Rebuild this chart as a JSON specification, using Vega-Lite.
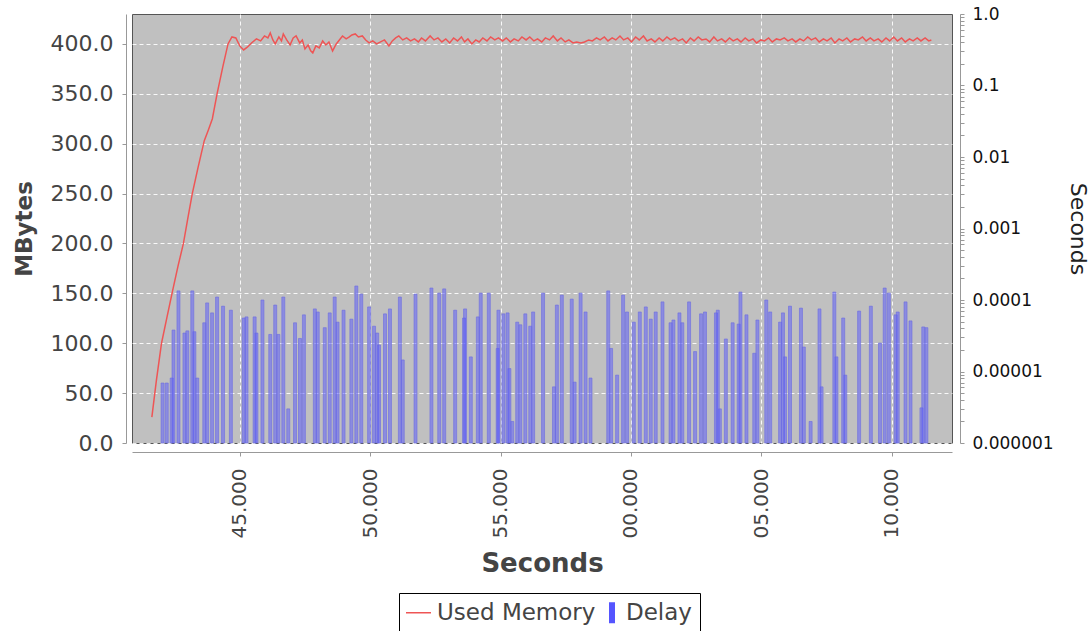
{
  "$schema": "https://vega.github.io/schema/vega-lite/v6.json",
  "width": 820,
  "height": 429,
  "autosize": {"type": "none"},
  "padding": {"left": 132, "top": 14, "right": 140, "bottom": 188},
  "background": "white",
  "config": {
    "font": "DejaVu Sans",
    "view": {"fill": "#c0c0c0", "stroke": "#555555", "strokeWidth": 1},
    "axis": {"domainColor": "#999999", "tickColor": "#999999", "gridColor": "#ffffff", "gridDash": [4, 3], "gridOpacity": 0.9, "labelFont": "DejaVu Sans", "titleFont": "DejaVu Sans"}
  },
  "datasets": {
    "delay": [
      {"t": 42.04, "delay": 6.9e-6, "series": "Delay"},
      {"t": 42.20, "delay": 6.9e-6, "series": "Delay"},
      {"t": 42.39, "delay": 8.1e-6, "series": "Delay"},
      {"t": 42.46, "delay": 3.8e-5, "series": "Delay"},
      {"t": 42.65, "delay": 1.34e-4, "series": "Delay"},
      {"t": 42.88, "delay": 3.45e-5, "series": "Delay"},
      {"t": 42.99, "delay": 3.7e-5, "series": "Delay"},
      {"t": 43.18, "delay": 1.34e-4, "series": "Delay"},
      {"t": 43.26, "delay": 3.6e-5, "series": "Delay"},
      {"t": 43.37, "delay": 8.1e-6, "series": "Delay"},
      {"t": 43.64, "delay": 4.8e-5, "series": "Delay"},
      {"t": 43.75, "delay": 9.1e-5, "series": "Delay"},
      {"t": 43.94, "delay": 6.6e-5, "series": "Delay"},
      {"t": 44.13, "delay": 1.1e-4, "series": "Delay"},
      {"t": 44.36, "delay": 8.2e-5, "series": "Delay"},
      {"t": 44.66, "delay": 7.2e-5, "series": "Delay"},
      {"t": 45.15, "delay": 5.6e-5, "series": "Delay"},
      {"t": 45.26, "delay": 5.8e-5, "series": "Delay"},
      {"t": 45.57, "delay": 5.8e-5, "series": "Delay"},
      {"t": 45.64, "delay": 3.45e-5, "series": "Delay"},
      {"t": 45.87, "delay": 1.0e-4, "series": "Delay"},
      {"t": 46.17, "delay": 3.3e-5, "series": "Delay"},
      {"t": 46.36, "delay": 8.5e-5, "series": "Delay"},
      {"t": 46.48, "delay": 3.3e-5, "series": "Delay"},
      {"t": 46.67, "delay": 1.1e-4, "series": "Delay"},
      {"t": 46.86, "delay": 3.0e-6, "series": "Delay"},
      {"t": 47.12, "delay": 4.8e-5, "series": "Delay"},
      {"t": 47.31, "delay": 2.9e-5, "series": "Delay"},
      {"t": 47.46, "delay": 6.2e-5, "series": "Delay"},
      {"t": 47.88, "delay": 7.5e-5, "series": "Delay"},
      {"t": 47.99, "delay": 6.8e-5, "series": "Delay"},
      {"t": 48.26, "delay": 4.1e-5, "series": "Delay"},
      {"t": 48.45, "delay": 6.6e-5, "series": "Delay"},
      {"t": 48.64, "delay": 1.1e-4, "series": "Delay"},
      {"t": 48.75, "delay": 4.9e-5, "series": "Delay"},
      {"t": 48.98, "delay": 7.2e-5, "series": "Delay"},
      {"t": 49.28, "delay": 5.4e-5, "series": "Delay"},
      {"t": 49.47, "delay": 1.57e-4, "series": "Delay"},
      {"t": 49.66, "delay": 1.21e-4, "series": "Delay"},
      {"t": 49.96, "delay": 8.0e-5, "series": "Delay"},
      {"t": 50.15, "delay": 4.3e-5, "series": "Delay"},
      {"t": 50.27, "delay": 3.45e-5, "series": "Delay"},
      {"t": 50.34, "delay": 2.35e-5, "series": "Delay"},
      {"t": 50.57, "delay": 6.4e-5, "series": "Delay"},
      {"t": 50.76, "delay": 7.5e-5, "series": "Delay"},
      {"t": 51.14, "delay": 1.1e-4, "series": "Delay"},
      {"t": 51.25, "delay": 1.45e-5, "series": "Delay"},
      {"t": 51.74, "delay": 1.21e-4, "series": "Delay"},
      {"t": 52.35, "delay": 1.47e-4, "series": "Delay"},
      {"t": 52.65, "delay": 1.25e-4, "series": "Delay"},
      {"t": 52.84, "delay": 1.43e-4, "series": "Delay"},
      {"t": 53.26, "delay": 7.2e-5, "series": "Delay"},
      {"t": 53.60, "delay": 5.6e-5, "series": "Delay"},
      {"t": 53.64, "delay": 7.5e-5, "series": "Delay"},
      {"t": 53.86, "delay": 1.6e-5, "series": "Delay"},
      {"t": 54.13, "delay": 5.8e-5, "series": "Delay"},
      {"t": 54.24, "delay": 1.25e-4, "series": "Delay"},
      {"t": 54.55, "delay": 1.25e-4, "series": "Delay"},
      {"t": 54.89, "delay": 2.1e-5, "series": "Delay"},
      {"t": 54.92, "delay": 7.2e-5, "series": "Delay"},
      {"t": 55.11, "delay": 6.4e-5, "series": "Delay"},
      {"t": 55.27, "delay": 6.6e-5, "series": "Delay"},
      {"t": 55.34, "delay": 1.1e-5, "series": "Delay"},
      {"t": 55.45, "delay": 2.0e-6, "series": "Delay"},
      {"t": 55.64, "delay": 4.9e-5, "series": "Delay"},
      {"t": 55.76, "delay": 4.5e-5, "series": "Delay"},
      {"t": 55.95, "delay": 6.4e-5, "series": "Delay"},
      {"t": 56.14, "delay": 4.3e-5, "series": "Delay"},
      {"t": 56.25, "delay": 6.8e-5, "series": "Delay"},
      {"t": 56.63, "delay": 1.25e-4, "series": "Delay"},
      {"t": 57.05, "delay": 6.1e-6, "series": "Delay"},
      {"t": 57.16, "delay": 8.5e-5, "series": "Delay"},
      {"t": 57.35, "delay": 1.17e-4, "series": "Delay"},
      {"t": 57.73, "delay": 1.03e-4, "series": "Delay"},
      {"t": 57.84, "delay": 7.1e-6, "series": "Delay"},
      {"t": 58.07, "delay": 1.25e-4, "series": "Delay"},
      {"t": 58.26, "delay": 6.8e-5, "series": "Delay"},
      {"t": 58.45, "delay": 8.1e-6, "series": "Delay"},
      {"t": 59.13, "delay": 1.34e-4, "series": "Delay"},
      {"t": 59.24, "delay": 2.1e-5, "series": "Delay"},
      {"t": 59.47, "delay": 8.9e-6, "series": "Delay"},
      {"t": 59.70, "delay": 1.17e-4, "series": "Delay"},
      {"t": 59.85, "delay": 6.8e-5, "series": "Delay"},
      {"t": 60.11, "delay": 4.9e-5, "series": "Delay"},
      {"t": 60.34, "delay": 6.8e-5, "series": "Delay"},
      {"t": 60.57, "delay": 8.0e-5, "series": "Delay"},
      {"t": 60.76, "delay": 5.4e-5, "series": "Delay"},
      {"t": 60.95, "delay": 6.8e-5, "series": "Delay"},
      {"t": 61.21, "delay": 9.4e-5, "series": "Delay"},
      {"t": 61.52, "delay": 4.8e-5, "series": "Delay"},
      {"t": 61.63, "delay": 5.25e-5, "series": "Delay"},
      {"t": 61.86, "delay": 6.6e-5, "series": "Delay"},
      {"t": 61.97, "delay": 4.8e-5, "series": "Delay"},
      {"t": 62.23, "delay": 9.4e-5, "series": "Delay"},
      {"t": 62.46, "delay": 1.9e-5, "series": "Delay"},
      {"t": 62.69, "delay": 6.4e-5, "series": "Delay"},
      {"t": 62.84, "delay": 6.8e-5, "series": "Delay"},
      {"t": 63.26, "delay": 6.6e-5, "series": "Delay"},
      {"t": 63.33, "delay": 7.2e-5, "series": "Delay"},
      {"t": 63.41, "delay": 3.0e-6, "series": "Delay"},
      {"t": 63.64, "delay": 2.85e-5, "series": "Delay"},
      {"t": 63.90, "delay": 4.8e-5, "series": "Delay"},
      {"t": 64.13, "delay": 4.6e-5, "series": "Delay"},
      {"t": 64.20, "delay": 1.29e-4, "series": "Delay"},
      {"t": 64.43, "delay": 6.2e-5, "series": "Delay"},
      {"t": 64.73, "delay": 1.8e-5, "series": "Delay"},
      {"t": 64.85, "delay": 5.25e-5, "series": "Delay"},
      {"t": 65.19, "delay": 1.0e-4, "series": "Delay"},
      {"t": 65.34, "delay": 6.8e-5, "series": "Delay"},
      {"t": 65.72, "delay": 4.9e-5, "series": "Delay"},
      {"t": 65.83, "delay": 6.6e-5, "series": "Delay"},
      {"t": 65.91, "delay": 1.6e-5, "series": "Delay"},
      {"t": 66.10, "delay": 8.2e-5, "series": "Delay"},
      {"t": 66.52, "delay": 7.7e-5, "series": "Delay"},
      {"t": 66.63, "delay": 2.2e-5, "series": "Delay"},
      {"t": 66.89, "delay": 2.0e-6, "series": "Delay"},
      {"t": 67.23, "delay": 7.5e-5, "series": "Delay"},
      {"t": 67.31, "delay": 6.1e-6, "series": "Delay"},
      {"t": 67.80, "delay": 1.29e-4, "series": "Delay"},
      {"t": 67.88, "delay": 1.6e-5, "series": "Delay"},
      {"t": 68.14, "delay": 5.6e-5, "series": "Delay"},
      {"t": 68.22, "delay": 8.9e-6, "series": "Delay"},
      {"t": 68.75, "delay": 7.0e-5, "series": "Delay"},
      {"t": 69.20, "delay": 8.2e-5, "series": "Delay"},
      {"t": 69.55, "delay": 2.5e-5, "series": "Delay"},
      {"t": 69.73, "delay": 1.47e-4, "series": "Delay"},
      {"t": 69.89, "delay": 1.25e-4, "series": "Delay"},
      {"t": 70.15, "delay": 6.2e-5, "series": "Delay"},
      {"t": 70.23, "delay": 6.8e-5, "series": "Delay"},
      {"t": 70.53, "delay": 9.4e-5, "series": "Delay"},
      {"t": 70.72, "delay": 5.1e-5, "series": "Delay"},
      {"t": 71.14, "delay": 3.1e-6, "series": "Delay"},
      {"t": 71.21, "delay": 4.2e-5, "series": "Delay"},
      {"t": 71.33, "delay": 4.1e-5, "series": "Delay"}
    ],
    "mem": [
      {"t": 41.63, "mem": 26, "series": "Used Memory"},
      {"t": 41.80, "mem": 62, "series": "Used Memory"},
      {"t": 42.00, "mem": 100, "series": "Used Memory"},
      {"t": 42.20, "mem": 125, "series": "Used Memory"},
      {"t": 42.42, "mem": 152, "series": "Used Memory"},
      {"t": 42.63, "mem": 177, "series": "Used Memory"},
      {"t": 42.84, "mem": 200, "series": "Used Memory"},
      {"t": 43.00, "mem": 224, "series": "Used Memory"},
      {"t": 43.18, "mem": 250, "series": "Used Memory"},
      {"t": 43.40, "mem": 276, "series": "Used Memory"},
      {"t": 43.64, "mem": 303, "series": "Used Memory"},
      {"t": 43.80, "mem": 314, "series": "Used Memory"},
      {"t": 43.95, "mem": 325, "series": "Used Memory"},
      {"t": 44.13, "mem": 350, "series": "Used Memory"},
      {"t": 44.35, "mem": 377, "series": "Used Memory"},
      {"t": 44.55, "mem": 400, "series": "Used Memory"},
      {"t": 44.70, "mem": 407, "series": "Used Memory"},
      {"t": 44.85, "mem": 406, "series": "Used Memory"},
      {"t": 45.00, "mem": 398, "series": "Used Memory"},
      {"t": 45.15, "mem": 394, "series": "Used Memory"},
      {"t": 45.30, "mem": 397, "series": "Used Memory"},
      {"t": 45.45, "mem": 401, "series": "Used Memory"},
      {"t": 45.64, "mem": 405, "series": "Used Memory"},
      {"t": 45.80, "mem": 403, "series": "Used Memory"},
      {"t": 45.95, "mem": 408, "series": "Used Memory"},
      {"t": 46.08, "mem": 406, "series": "Used Memory"},
      {"t": 46.17, "mem": 411, "series": "Used Memory"},
      {"t": 46.27, "mem": 404, "series": "Used Memory"},
      {"t": 46.36, "mem": 400, "series": "Used Memory"},
      {"t": 46.50, "mem": 407, "series": "Used Memory"},
      {"t": 46.60, "mem": 403, "series": "Used Memory"},
      {"t": 46.67, "mem": 410, "series": "Used Memory"},
      {"t": 46.80, "mem": 404, "series": "Used Memory"},
      {"t": 46.93, "mem": 399, "series": "Used Memory"},
      {"t": 47.05, "mem": 406, "series": "Used Memory"},
      {"t": 47.16, "mem": 408, "series": "Used Memory"},
      {"t": 47.30, "mem": 401, "series": "Used Memory"},
      {"t": 47.40, "mem": 404, "series": "Used Memory"},
      {"t": 47.50, "mem": 395, "series": "Used Memory"},
      {"t": 47.62, "mem": 399, "series": "Used Memory"},
      {"t": 47.72, "mem": 393, "series": "Used Memory"},
      {"t": 47.80, "mem": 391, "series": "Used Memory"},
      {"t": 47.92, "mem": 398, "series": "Used Memory"},
      {"t": 48.05, "mem": 396, "series": "Used Memory"},
      {"t": 48.18, "mem": 403, "series": "Used Memory"},
      {"t": 48.30, "mem": 399, "series": "Used Memory"},
      {"t": 48.42, "mem": 402, "series": "Used Memory"},
      {"t": 48.56, "mem": 393, "series": "Used Memory"},
      {"t": 48.70, "mem": 400, "series": "Used Memory"},
      {"t": 48.82, "mem": 404, "series": "Used Memory"},
      {"t": 48.94, "mem": 408, "series": "Used Memory"},
      {"t": 49.08, "mem": 405, "series": "Used Memory"},
      {"t": 49.20, "mem": 407, "series": "Used Memory"},
      {"t": 49.30, "mem": 409, "series": "Used Memory"},
      {"t": 49.43, "mem": 410, "series": "Used Memory"},
      {"t": 49.55, "mem": 407, "series": "Used Memory"},
      {"t": 49.70, "mem": 408, "series": "Used Memory"},
      {"t": 49.83, "mem": 404, "series": "Used Memory"},
      {"t": 49.96, "mem": 401, "series": "Used Memory"},
      {"t": 50.10, "mem": 403, "series": "Used Memory"},
      {"t": 50.25, "mem": 400, "series": "Used Memory"},
      {"t": 50.40, "mem": 402, "series": "Used Memory"},
      {"t": 50.55, "mem": 404, "series": "Used Memory"},
      {"t": 50.72, "mem": 398, "series": "Used Memory"},
      {"t": 50.85, "mem": 403, "series": "Used Memory"},
      {"t": 50.98, "mem": 406, "series": "Used Memory"},
      {"t": 51.10, "mem": 408, "series": "Used Memory"},
      {"t": 51.25, "mem": 404, "series": "Used Memory"},
      {"t": 51.40, "mem": 406, "series": "Used Memory"},
      {"t": 51.55, "mem": 403, "series": "Used Memory"},
      {"t": 51.70, "mem": 405, "series": "Used Memory"},
      {"t": 51.85, "mem": 402, "series": "Used Memory"},
      {"t": 51.97, "mem": 406, "series": "Used Memory"},
      {"t": 52.12, "mem": 403, "series": "Used Memory"},
      {"t": 52.30, "mem": 408, "series": "Used Memory"},
      {"t": 52.45, "mem": 404, "series": "Used Memory"},
      {"t": 52.60, "mem": 406, "series": "Used Memory"},
      {"t": 52.75, "mem": 402, "series": "Used Memory"},
      {"t": 52.90, "mem": 405, "series": "Used Memory"},
      {"t": 53.05, "mem": 401, "series": "Used Memory"},
      {"t": 53.20, "mem": 406, "series": "Used Memory"},
      {"t": 53.35, "mem": 403, "series": "Used Memory"},
      {"t": 53.50, "mem": 407, "series": "Used Memory"},
      {"t": 53.62, "mem": 402, "series": "Used Memory"},
      {"t": 53.75, "mem": 405, "series": "Used Memory"},
      {"t": 53.90, "mem": 400, "series": "Used Memory"},
      {"t": 54.05, "mem": 404, "series": "Used Memory"},
      {"t": 54.18, "mem": 402, "series": "Used Memory"},
      {"t": 54.32, "mem": 406, "series": "Used Memory"},
      {"t": 54.48, "mem": 403, "series": "Used Memory"},
      {"t": 54.62, "mem": 407, "series": "Used Memory"},
      {"t": 54.78, "mem": 404, "series": "Used Memory"},
      {"t": 54.92, "mem": 406, "series": "Used Memory"},
      {"t": 55.08, "mem": 403, "series": "Used Memory"},
      {"t": 55.22, "mem": 406, "series": "Used Memory"},
      {"t": 55.38, "mem": 402, "series": "Used Memory"},
      {"t": 55.52, "mem": 405, "series": "Used Memory"},
      {"t": 55.68, "mem": 403, "series": "Used Memory"},
      {"t": 55.82, "mem": 407, "series": "Used Memory"},
      {"t": 55.98, "mem": 404, "series": "Used Memory"},
      {"t": 56.12, "mem": 407, "series": "Used Memory"},
      {"t": 56.28, "mem": 403, "series": "Used Memory"},
      {"t": 56.42, "mem": 405, "series": "Used Memory"},
      {"t": 56.58, "mem": 402, "series": "Used Memory"},
      {"t": 56.72, "mem": 406, "series": "Used Memory"},
      {"t": 56.88, "mem": 404, "series": "Used Memory"},
      {"t": 57.02, "mem": 408, "series": "Used Memory"},
      {"t": 57.18, "mem": 403, "series": "Used Memory"},
      {"t": 57.32, "mem": 406, "series": "Used Memory"},
      {"t": 57.48, "mem": 402, "series": "Used Memory"},
      {"t": 57.62, "mem": 404, "series": "Used Memory"},
      {"t": 57.78, "mem": 401, "series": "Used Memory"},
      {"t": 57.92, "mem": 402, "series": "Used Memory"},
      {"t": 58.08, "mem": 401, "series": "Used Memory"},
      {"t": 58.22, "mem": 402, "series": "Used Memory"},
      {"t": 58.38, "mem": 404, "series": "Used Memory"},
      {"t": 58.52, "mem": 403, "series": "Used Memory"},
      {"t": 58.68, "mem": 406, "series": "Used Memory"},
      {"t": 58.82, "mem": 404, "series": "Used Memory"},
      {"t": 58.98, "mem": 407, "series": "Used Memory"},
      {"t": 59.12, "mem": 403, "series": "Used Memory"},
      {"t": 59.28, "mem": 406, "series": "Used Memory"},
      {"t": 59.42, "mem": 404, "series": "Used Memory"},
      {"t": 59.58, "mem": 408, "series": "Used Memory"},
      {"t": 59.72, "mem": 404, "series": "Used Memory"},
      {"t": 59.88, "mem": 406, "series": "Used Memory"},
      {"t": 60.02, "mem": 402, "series": "Used Memory"},
      {"t": 60.18, "mem": 407, "series": "Used Memory"},
      {"t": 60.32, "mem": 404, "series": "Used Memory"},
      {"t": 60.48, "mem": 408, "series": "Used Memory"},
      {"t": 60.62, "mem": 403, "series": "Used Memory"},
      {"t": 60.78, "mem": 405, "series": "Used Memory"},
      {"t": 60.92, "mem": 402, "series": "Used Memory"},
      {"t": 61.08, "mem": 406, "series": "Used Memory"},
      {"t": 61.22, "mem": 403, "series": "Used Memory"},
      {"t": 61.38, "mem": 407, "series": "Used Memory"},
      {"t": 61.52, "mem": 404, "series": "Used Memory"},
      {"t": 61.68, "mem": 406, "series": "Used Memory"},
      {"t": 61.82, "mem": 403, "series": "Used Memory"},
      {"t": 61.98, "mem": 405, "series": "Used Memory"},
      {"t": 62.12, "mem": 401, "series": "Used Memory"},
      {"t": 62.28, "mem": 406, "series": "Used Memory"},
      {"t": 62.42, "mem": 403, "series": "Used Memory"},
      {"t": 62.58, "mem": 407, "series": "Used Memory"},
      {"t": 62.72, "mem": 404, "series": "Used Memory"},
      {"t": 62.88, "mem": 405, "series": "Used Memory"},
      {"t": 63.02, "mem": 402, "series": "Used Memory"},
      {"t": 63.18, "mem": 407, "series": "Used Memory"},
      {"t": 63.32, "mem": 403, "series": "Used Memory"},
      {"t": 63.48, "mem": 405, "series": "Used Memory"},
      {"t": 63.62, "mem": 402, "series": "Used Memory"},
      {"t": 63.78, "mem": 406, "series": "Used Memory"},
      {"t": 63.92, "mem": 403, "series": "Used Memory"},
      {"t": 64.08, "mem": 405, "series": "Used Memory"},
      {"t": 64.22, "mem": 402, "series": "Used Memory"},
      {"t": 64.38, "mem": 406, "series": "Used Memory"},
      {"t": 64.52, "mem": 403, "series": "Used Memory"},
      {"t": 64.68, "mem": 405, "series": "Used Memory"},
      {"t": 64.82, "mem": 401, "series": "Used Memory"},
      {"t": 64.98, "mem": 404, "series": "Used Memory"},
      {"t": 65.12, "mem": 403, "series": "Used Memory"},
      {"t": 65.28, "mem": 406, "series": "Used Memory"},
      {"t": 65.42, "mem": 402, "series": "Used Memory"},
      {"t": 65.58, "mem": 405, "series": "Used Memory"},
      {"t": 65.72, "mem": 404, "series": "Used Memory"},
      {"t": 65.88, "mem": 406, "series": "Used Memory"},
      {"t": 66.02, "mem": 403, "series": "Used Memory"},
      {"t": 66.18, "mem": 405, "series": "Used Memory"},
      {"t": 66.32, "mem": 402, "series": "Used Memory"},
      {"t": 66.48, "mem": 405, "series": "Used Memory"},
      {"t": 66.62, "mem": 403, "series": "Used Memory"},
      {"t": 66.78, "mem": 407, "series": "Used Memory"},
      {"t": 66.92, "mem": 404, "series": "Used Memory"},
      {"t": 67.08, "mem": 406, "series": "Used Memory"},
      {"t": 67.22, "mem": 402, "series": "Used Memory"},
      {"t": 67.38, "mem": 405, "series": "Used Memory"},
      {"t": 67.52, "mem": 403, "series": "Used Memory"},
      {"t": 67.68, "mem": 406, "series": "Used Memory"},
      {"t": 67.82, "mem": 401, "series": "Used Memory"},
      {"t": 67.98, "mem": 405, "series": "Used Memory"},
      {"t": 68.12, "mem": 403, "series": "Used Memory"},
      {"t": 68.28, "mem": 406, "series": "Used Memory"},
      {"t": 68.42, "mem": 402, "series": "Used Memory"},
      {"t": 68.58, "mem": 405, "series": "Used Memory"},
      {"t": 68.72, "mem": 404, "series": "Used Memory"},
      {"t": 68.88, "mem": 407, "series": "Used Memory"},
      {"t": 69.02, "mem": 403, "series": "Used Memory"},
      {"t": 69.18, "mem": 406, "series": "Used Memory"},
      {"t": 69.32, "mem": 403, "series": "Used Memory"},
      {"t": 69.48, "mem": 405, "series": "Used Memory"},
      {"t": 69.62, "mem": 402, "series": "Used Memory"},
      {"t": 69.78, "mem": 406, "series": "Used Memory"},
      {"t": 69.92, "mem": 403, "series": "Used Memory"},
      {"t": 70.08, "mem": 407, "series": "Used Memory"},
      {"t": 70.22, "mem": 403, "series": "Used Memory"},
      {"t": 70.38, "mem": 406, "series": "Used Memory"},
      {"t": 70.52, "mem": 402, "series": "Used Memory"},
      {"t": 70.68, "mem": 405, "series": "Used Memory"},
      {"t": 70.82, "mem": 403, "series": "Used Memory"},
      {"t": 70.98, "mem": 406, "series": "Used Memory"},
      {"t": 71.12, "mem": 403, "series": "Used Memory"},
      {"t": 71.28, "mem": 406, "series": "Used Memory"},
      {"t": 71.42, "mem": 403, "series": "Used Memory"},
      {"t": 71.52, "mem": 404, "series": "Used Memory"}
    ]
  },
  "layer": [
    {
      "data": {"name": "delay"},
      "mark": {"type": "bar", "width": 3, "fillOpacity": 0.5, "stroke": "#6b6be0", "strokeWidth": 0.6},
      "encoding": {
        "x": {
          "field": "t", "type": "quantitative",
          "scale": {"domain": [41.06, 72.12], "nice": false, "zero": false},
          "axis": {
            "values": [45, 50, 55, 60, 65, 70],
            "labelExpr": "(datum.value % 60 < 10 ? '0' : '') + format(datum.value % 60, '.3f')",
            "labelAngle": 270, "labelFontSize": 20, "labelColor": "#444444", "labelPadding": 12,
            "tickSize": 4, "offset": 9, "grid": true,
            "title": "Seconds", "titleFontSize": 26, "titleFontWeight": "bold", "titleColor": "#444444", "titlePadding": 13
          }
        },
        "y": {
          "field": "delay", "type": "quantitative",
          "scale": {"type": "log", "domain": [0.000001, 1], "nice": false},
          "axis": {
            "orient": "right", "offset": 8, "grid": false,
            "values": [1e-6, 2e-6, 3e-6, 4e-6, 5e-6, 6e-6, 7e-6, 8e-6, 9e-6, 1e-5, 2e-5, 3e-5, 4e-5, 5e-5, 6e-5, 7e-5, 8e-5, 9e-5, 1e-4, 2e-4, 3e-4, 4e-4, 5e-4, 6e-4, 7e-4, 8e-4, 9e-4, 0.001, 0.002, 0.003, 0.004, 0.005, 0.006, 0.007, 0.008, 0.009, 0.01, 0.02, 0.03, 0.04, 0.05, 0.06, 0.07, 0.08, 0.09, 0.1, 0.2, 0.3, 0.4, 0.5, 0.6, 0.7, 0.8, 0.9, 1],
            "labelExpr": "abs(log(datum.value)/LN10 - round(log(datum.value)/LN10)) < 0.01 ? (datum.value > 0.5 ? '1.0' : format(datum.value, '~f')) : ''",
            "labelOverlap": false, "labelFlush": false,
            "labelFontSize": 17, "labelColor": "#111111", "labelPadding": 8, "tickSize": 4,
            "title": "Seconds", "titleFontSize": 22, "titleFontWeight": "normal", "titleColor": "#222222", "titlePadding": 12
          }
        },
        "y2": {"datum": 0.000001},
        "color": {
          "field": "series", "type": "nominal",
          "scale": {"domain": ["Used Memory", "Delay"], "range": ["#ee5555", "#5555ff"]},
          "legend": {
            "title": null, "orient": "none", "legendX": 267, "legendY": 579, "direction": "horizontal",
            "strokeColor": "#000000", "fillColor": "#ffffff", "padding": 8,
            "labelFontSize": 23, "labelColor": "#444444", "labelOffset": 7, "columnPadding": 0,
            "symbolSize": 625,
            "symbolType": {"expr": "datum.value === 'Delay' ? 'M0.12,-0.84L0.6,-0.84L0.6,0.84L0.12,0.84Z' : 'stroke'"},
            "symbolStrokeWidth": {"expr": "datum.value === 'Delay' ? 0 : 1.5"},
            "symbolOpacity": 1
          }
        }
      }
    },
    {
      "data": {"name": "mem"},
      "mark": {"type": "line", "strokeWidth": 1.5},
      "encoding": {
        "x": {"field": "t", "type": "quantitative"},
        "y": {
          "field": "mem", "type": "quantitative",
          "scale": {"domain": [0, 430], "nice": false},
          "axis": {
            "orient": "left", "offset": 6, "grid": true,
            "values": [0, 50, 100, 150, 200, 250, 300, 350, 400],
            "format": ".1f", "labelFontSize": 22, "labelColor": "#444444", "labelPadding": 9, "tickSize": 4,
            "title": "MBytes", "titleFontSize": 23, "titleFontWeight": "bold", "titleColor": "#444444", "titlePadding": 14
          }
        },
        "color": {"field": "series", "type": "nominal"}
      }
    }
  ],
  "resolve": {"scale": {"y": "independent"}}
}
